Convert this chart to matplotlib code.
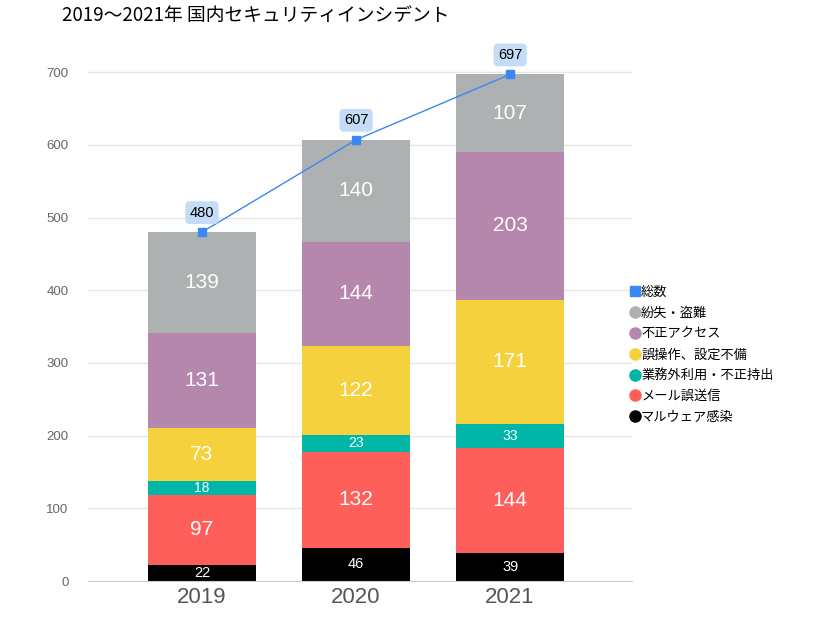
import numpy as np
import matplotlib.pyplot as plt

plt.rcParams['font.family'] = ['Noto Sans CJK JP', 'DejaVu Sans']

years = ['2019', '2020', '2021']
series = ['マルウェア感染', 'メール誤送信', '業務外利用・不正持出', '誤操作、設定不備', '不正アクセス', '紛失・盗難']
malware = [22, 46, 39]
mail = [97, 132, 144]
misuse = [18, 23, 33]
misop = [73, 122, 171]
access = [131, 144, 203]
lost = [139, 140, 107]
totals = [480, 607, 697]

values = [malware, mail, misuse, misop, access, lost]
colors = ['#000000', '#fe5f5b', '#00b6a7', '#f4d13d', '#b587ad', '#adb1b2']
label_sizes = [10.5, 15, 10, 15, 15, 15]
num_font = 'Liberation Sans'

fig = plt.figure(figsize=(8.26, 6.2), dpi=100)
ax = fig.add_axes([0.1065, 0.0629, 0.6585, 0.891])
x = np.arange(len(years))
bottom = np.zeros(len(years))
handles = []
for name, vals, col, fs in zip(series, values, colors, label_sizes):
    vals = np.array(vals)
    ax.bar(x, vals, 0.70, bottom=bottom, color=col, zorder=2)
    for xi, b, v in zip(x, bottom, vals):
        ax.text(xi, b + v / 2, str(v), ha='center', va='center', color='white',
                fontsize=fs, family=num_font, zorder=3)
    h, = ax.plot([], [], 'o', color=col, markersize=8, label=name)
    handles.append(h)
    bottom += vals

ax.plot(x, totals, color='#3a87f5', lw=1, marker='s', markersize=6, zorder=4)
for xi, t in zip(x, totals):
    ax.annotate(str(t), (xi, t), xytext=(0, 14), textcoords='offset points',
                ha='center', va='center', fontsize=10.5, family=num_font,
                bbox=dict(boxstyle='round,pad=0.3,rounding_size=0.3', fc='#c5dcf8', ec='none'),
                zorder=5)
htot, = ax.plot([], [], 's', color='#3a87f5', markersize=7, label='総数')
handles = [htot] + handles[::-1]

ax.set_xlim(-0.74, 2.79)
ax.set_ylim(0, 760)
ax.set_yticks(range(0, 701, 100))
ax.set_xticks(x)
ax.set_xticklabels(years, fontsize=16, color='#555555', family=num_font)
ax.tick_params(axis='y', labelsize=9.5, colors='#666666', length=0, pad=14)
ax.tick_params(axis='x', length=0, pad=4)
for lab in ax.get_yticklabels():
    lab.set_family(num_font)
ax.grid(axis='y', color='#e6e6e6', lw=1, zorder=0)
for s in ['top', 'right', 'left']:
    ax.spines[s].set_visible(False)
ax.spines['bottom'].set_color('#cccccc')

fig.legend(handles=handles, loc='upper left', bbox_to_anchor=(0.757, 0.548),
           frameon=False, fontsize=9.5, handlelength=0.6, handletextpad=0.2,
           labelspacing=0.6, borderaxespad=0)

fig.text(0.075, 0.975, '2019～2021年 国内セキュリティインシデント', fontsize=13.5,
         ha='left', va='center')

plt.savefig('out.png', dpi=100)
